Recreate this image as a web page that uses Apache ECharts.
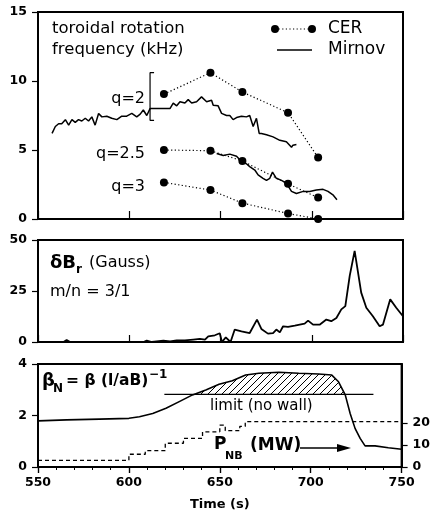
<!DOCTYPE html>
<html>
<head>
<meta charset="utf-8">
<script src="https://cdn.jsdelivr.net/npm/echarts@6/dist/echarts.min.js"></script>
<style>html,body{margin:0;padding:0;background:#fff;}#c{width:433px;height:516px;}</style>
</head>
<body>
<div id="c"></div>
<script>
// ---------- DATA ----------
// Top panel: toroidal rotation frequency (kHz)
const mirnovQ2T = [557.7,559.5,561.3,563,565,566.8,568.6,570.4,572.2,574,575.9,577.7,579.5,581.3,583.2,585,587.7,590.4,593.2,595.9,598.6,601.4,604.1,606,607.7,609.6,611.4,615,618.7,622.3,624.1,626,627.8,630.5,632.3,634.2,636.9,639.6,642.4,645.1,646,648.7,650.6,653.3,655.1,656.9,658.8,661.5,664.2,666,667.9,669.7,671.2,672.4,675.2,678.8,682.5,686.1,688.9,689.7,691.6];
const mirnovQ2V = [6.2,6.7,6.9,6.9,7.2,6.8,7.2,7.0,7.2,7.1,7.3,7.1,7.4,6.8,7.65,7.4,7.45,7.3,7.2,7.45,7.45,7.65,7.4,7.6,7.9,7.5,8.0,8.0,8.0,8.0,8.4,8.2,8.5,8.4,8.65,8.4,8.5,8.85,8.5,8.6,8.25,8.2,7.65,7.5,7.5,7.2,7.35,7.45,7.4,7.5,6.7,7.3,6.2,6.2,6.1,5.95,5.7,5.6,5.2,5.35,5.4];
const mirnovQ25T = [647.9,651.5,655.1,658.8,660.6,664.2,666,668.8,670.6,673.3,675.2,677,678.5,680.6,683.4,686.1,688.9,691.6,695.3,698.9,702.5,706.2,708.9,711.6,713.8];
const mirnovQ25V = [4.75,4.6,4.7,4.55,4.3,4.0,3.8,3.55,3.2,2.95,2.8,2.95,3.4,2.95,2.8,2.6,2.0,1.85,2.0,2.0,2.1,2.15,2.0,1.75,1.4];
const cerT = [619, 644.5, 662, 687, 703.5];
const cerQ2 = [9.05, 10.6, 9.2, 7.7, 4.45];
const cerQ25 = [5.0, 4.95, 4.2, 2.55, 1.55];
const cerQ3 = [2.65, 2.1, 1.15, 0.4, 0.0];
const q2BracketT = [613.6, 611.4, 611.4, 613.6];
const q2BracketV = [10.6, 10.6, 7.15, 7.15];
const topTicks = [0, 5, 10, 15];

// Middle panel: dB_r (Gauss)
const dBrT = [550,564,565.7,567.6,607.8,609.6,612.4,618.7,622.4,626,630.5,635.1,638.7,641.5,643.3,646.9,649.6,650.5,650.8,652.9,655.5,657.8,661.5,666,670,672.4,676,678.8,680.6,682.5,684.3,687,690.7,693.4,696.1,698,700.7,704.3,708,710.7,713.5,716.2,718.4,720.8,723.5,727.1,729.9,733.5,737.2,739,743,746.3,750];
const dBrV = [0,0,1.0,0,0,0.7,0,0.7,0.3,0.8,0.8,1.2,1.5,1.2,2.8,3.3,4.3,4.4,0,2.3,0,6.1,5.2,4.4,11.0,6.4,4.1,4.4,6.1,4.7,7.7,7.4,8.0,8.5,9.0,10.5,8.5,8.5,11.0,10.2,11.8,16,17.6,32.4,44.7,24.2,16.8,12.6,7.7,8.5,20.9,16.8,12.6];

// Bottom panel: beta_N and P_NB
const betaT = [550,565.7,583.9,600,605.8,613.1,620.4,627.7,635,642.3,649.6,656.9,664.2,671.5,682.5,693.4,704.3,711.6,715.3,719,721.7,724.4,727.2,729.9,735.4,742.7,750];
const betaV = [1.79,1.83,1.86,1.89,1.95,2.08,2.28,2.54,2.80,2.99,3.21,3.35,3.57,3.64,3.68,3.64,3.61,3.57,3.31,2.80,2.08,1.50,1.11,0.82,0.82,0.75,0.69];
const limitT = [619.5, 734.5];
const limitV = [2.82, 2.82];
const pnbT = [550, 600, 609, 620, 630, 640.5, 650, 653, 661, 664, 750];
const pnbV = [3.0, 5.8, 7.4, 10.8, 13.0, 16.0, 19.0, 16.5, 18.5, 20.6, 20.6];
const betaTicks = [0, 2, 4];
const pnbTicks = [0, 10, 20];
const timeTicks = [550, 600, 650, 700, 750];

// ---------- helpers ----------
const zip = (a, b) => a.map((t, i) => [t, b[i]]);
function hatchData() {
  const lim = limitV[0];
  const out = [];
  for (let i = 0; i < betaT.length; i++) {
    const v = betaV[i];
    if (i > 0) {
      const pv = betaV[i - 1];
      if ((pv - lim) * (v - lim) < 0) {
        const f = (lim - pv) / (v - pv);
        out.push([betaT[i - 1] + f * (betaT[i] - betaT[i - 1]), lim]);
      }
    }
    if (v >= lim) out.push([betaT[i], v]);
  }
  return out;
}
function hatchPattern() {
  const s = 7;
  const c = document.createElement('canvas');
  c.width = s; c.height = s;
  const g = c.getContext('2d');
  g.strokeStyle = '#000'; g.lineWidth = 1;
  g.beginPath();
  g.moveTo(0, s); g.lineTo(s, 0);
  g.moveTo(-1, 1); g.lineTo(1, -1);
  g.moveTo(s - 1, s + 1); g.lineTo(s + 1, s - 1);
  g.stroke();
  return c;
}

const FONT = '"DejaVu Sans", sans-serif';
const black = '#000';
const tickLabel = { color: black, fontFamily: FONT, fontWeight: 'bold', fontSize: 12.5 };

function xAx(grid, extra) {
  return Object.assign({
    type: 'value', gridIndex: grid, min: 550, max: 750, interval: 50,
    axisLine: { show: true, lineStyle: { color: black, width: 2 } },
    axisTick: { show: true, inside: true, length: 7, lineStyle: { color: black, width: 1.2 } },
    axisLabel: { show: false },
    splitLine: { show: false }
  }, extra || {});
}
function yAx(grid, min, max, interval, extra) {
  return Object.assign({
    type: 'value', gridIndex: grid, min: min, max: max, interval: interval,
    axisLine: { show: true, lineStyle: { color: black, width: 2 } },
    axisTick: { show: true, inside: false, length: 6, lineStyle: { color: black, width: 1.2 } },
    axisLabel: Object.assign({ margin: 11 }, tickLabel),
    splitLine: { show: false }
  }, extra || {});
}

const chart = echarts.init(document.getElementById('c'), null, { renderer: 'canvas' });

const txt = (x, y, text, size, weight, extra) => ({
  type: 'text', x: x, y: y, z: 100,
  style: Object.assign({ text: text, fill: black, font: (weight || 'normal') + ' ' + size + 'px ' + FONT, align: 'left', verticalAlign: 'middle' }, extra || {})
});

const option = {
  animation: false,
  backgroundColor: '#fff',
  grid: [
    { left: 38, top: 12, width: 365, height: 207, show: true, borderColor: black, borderWidth: 2, backgroundColor: 'transparent' },
    { left: 38, top: 240, width: 365, height: 102, show: true, borderColor: black, borderWidth: 2, backgroundColor: 'transparent' },
    { left: 38, top: 364, width: 365, height: 103, show: true, borderColor: black, borderWidth: 2, backgroundColor: 'transparent' }
  ],
  xAxis: [
    xAx(0, { axisTick: { show: true, inside: true, length: 8, lineStyle: { color: black, width: 1.2 } } }),
    xAx(1),
    xAx(2, {
      axisTick: { show: true, inside: false, length: 6, lineStyle: { color: black, width: 1.2 } },
      minorTick: { show: true, splitNumber: 5, length: 3, lineStyle: { color: black, width: 1 } },
      axisLabel: Object.assign({ show: true, margin: 9, showMinLabel: true, showMaxLabel: true }, tickLabel),
      name: 'Time (s)', nameLocation: 'middle', nameGap: 31,
      nameTextStyle: { color: black, fontFamily: FONT, fontWeight: 'bold', fontSize: 13 }
    }),
    xAx(2, { axisLine: { show: false }, axisTick: { show: true, inside: true, length: 6, lineStyle: { color: black, width: 1.2 } } })
  ],
  yAxis: [
    yAx(0, 0, 15, 5),
    yAx(1, 0, 50, 25),
    yAx(2, 0, 4, 2),
    yAx(2, 0, 46.8, 10, {
      position: 'right',
      axisTick: { show: true, inside: false, length: 6, customValues: pnbTicks, lineStyle: { color: black, width: 1.2 } },
      axisLabel: Object.assign({ margin: 11, customValues: pnbTicks }, tickLabel)
    })
  ],
  series: [
    { type: 'line', xAxisIndex: 0, yAxisIndex: 0, data: zip(mirnovQ2T, mirnovQ2V), showSymbol: false, lineStyle: { color: black, width: 1.5 } },
    { type: 'line', xAxisIndex: 0, yAxisIndex: 0, data: zip(mirnovQ25T, mirnovQ25V), showSymbol: false, lineStyle: { color: black, width: 1.5 } },
    { type: 'line', xAxisIndex: 0, yAxisIndex: 0, data: zip(q2BracketT, q2BracketV), showSymbol: false, lineStyle: { color: black, width: 1.2 } },
    ...[cerQ2, cerQ25, cerQ3].map(v => ({
      type: 'line', xAxisIndex: 0, yAxisIndex: 0, data: zip(cerT, v),
      symbol: 'circle', symbolSize: 8, showSymbol: true,
      itemStyle: { color: black }, lineStyle: { color: black, width: 1.2, type: [1.2, 2.4] }
    })),
    { type: 'line', xAxisIndex: 1, yAxisIndex: 1, data: zip(dBrT, dBrV), showSymbol: false, lineStyle: { color: black, width: 1.8 } },
    { type: 'line', xAxisIndex: 2, yAxisIndex: 2, data: hatchData(), showSymbol: false, lineStyle: { width: 0 },
      areaStyle: { origin: limitV[0], color: { image: hatchPattern(), repeat: 'repeat' }, opacity: 1 } },
    { type: 'line', xAxisIndex: 2, yAxisIndex: 2, data: zip(betaT, betaV), showSymbol: false, lineStyle: { color: black, width: 1.6 } },
    { type: 'line', xAxisIndex: 2, yAxisIndex: 2, data: zip(limitT, limitV), showSymbol: false, lineStyle: { color: black, width: 1.2 } },
    { type: 'line', xAxisIndex: 2, yAxisIndex: 3, data: zip(pnbT, pnbV), step: 'end', showSymbol: false, lineStyle: { color: black, width: 1.3, type: [4, 3] } }
  ],
  graphic: [
    // top panel labels
    txt(52, 29, 'toroidal rotation', 16.5),
    txt(52, 50, 'frequency (kHz)', 16.5),
    { type: 'circle', shape: { cx: 275, cy: 29, r: 4 }, style: { fill: black }, z: 100 },
    { type: 'circle', shape: { cx: 312, cy: 29, r: 4 }, style: { fill: black }, z: 100 },
    { type: 'line', shape: { x1: 275, y1: 29, x2: 312, y2: 29 }, style: { stroke: black, lineWidth: 1.2, lineDash: [1.2, 2.4] }, z: 100 },
    txt(328, 29, 'CER', 17),
    { type: 'line', shape: { x1: 277, y1: 50, x2: 312, y2: 50 }, style: { stroke: black, lineWidth: 1.5 }, z: 100 },
    txt(328, 50, 'Mirnov', 17),
    txt(145, 99, 'q=2', 16, 'normal', { align: 'right' }),
    txt(145, 154, 'q=2.5', 16, 'normal', { align: 'right' }),
    txt(145, 187, 'q=3', 16, 'normal', { align: 'right' }),
    // middle panel labels
    txt(50, 263, 'δB', 18, 'bold'),
    txt(76, 270, 'r', 12, 'bold'),
    txt(89, 263, '(Gauss)', 16),
    txt(50, 292, 'm/n = 3/1', 16),
    // bottom panel labels
    txt(42, 381, 'β', 18, 'bold'),
    txt(53, 389, 'N', 12, 'bold'),
    txt(66, 381, '= β (l/aB)', 15.5, 'bold'),
    txt(149, 375, '−1', 12, 'bold'),
    txt(210, 406, 'limit (no wall)', 15),
    txt(214, 445, 'P', 17, 'bold'),
    txt(225, 456, 'NB', 11, 'bold'),
    txt(250, 446, '(MW)', 17, 'bold'),
    { type: 'line', shape: { x1: 300, y1: 448, x2: 340, y2: 448 }, style: { stroke: black, lineWidth: 1.5 }, z: 100 },
    { type: 'polygon', shape: { points: [[337, 444], [351, 448], [337, 452]] }, style: { fill: black }, z: 100 }
  ]
};
chart.setOption(option);
</script>
</body>
</html>
